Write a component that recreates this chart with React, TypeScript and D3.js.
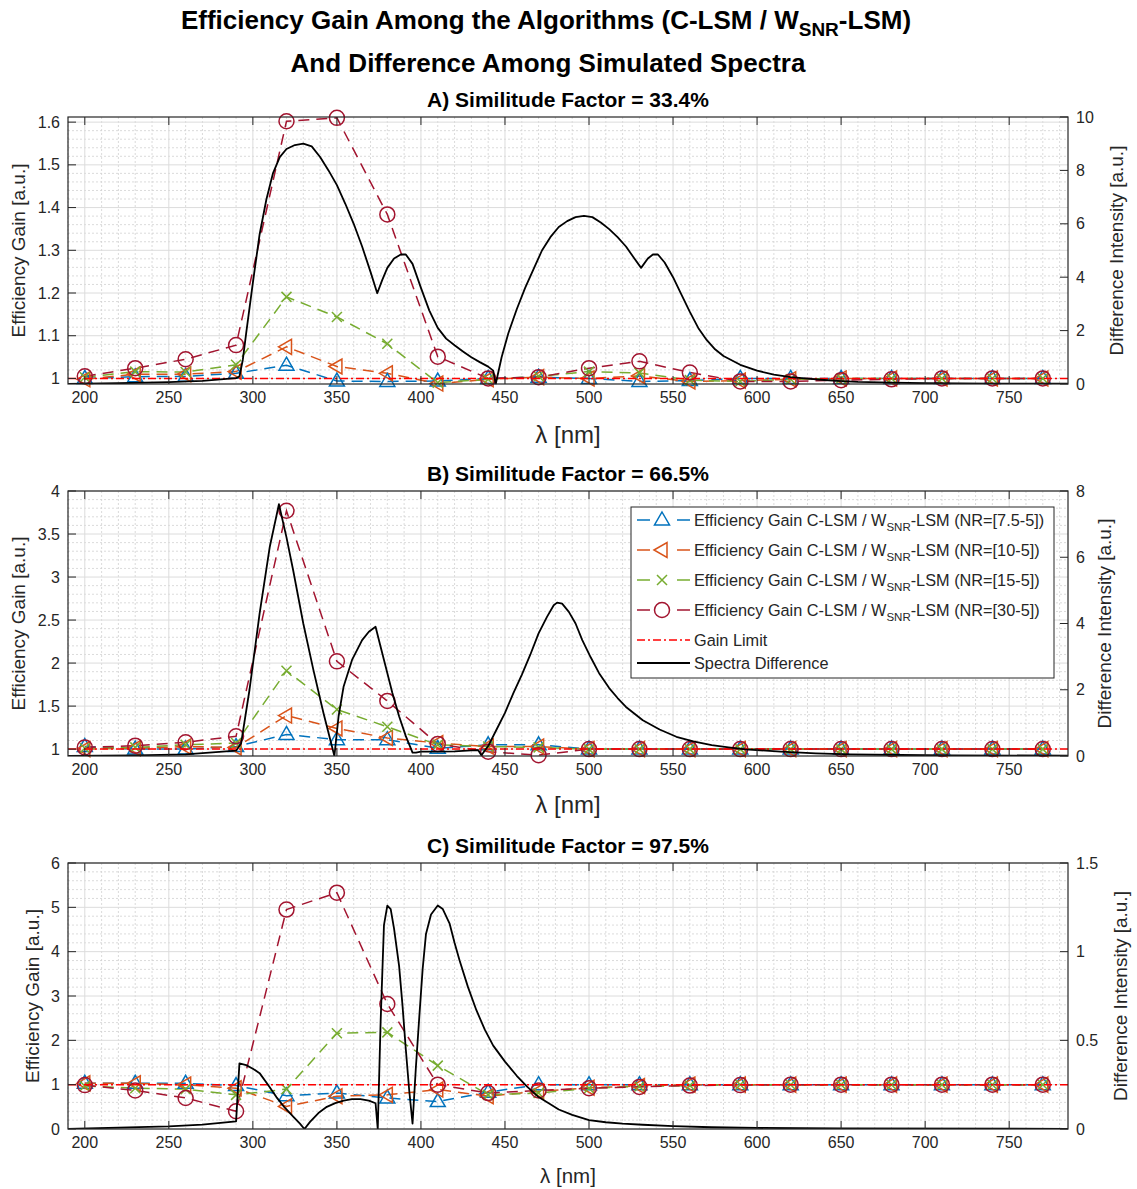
import React from 'react';
import * as d3 from 'd3';

// wavelengths where the gain ratio was evaluated
const wavelengths = [200, 230, 260, 290, 320, 350, 380, 410, 440, 470, 500, 530, 560, 590, 620, 650, 680, 710, 740, 770];

// A) similitude factor 33.4 %
const gainA_nr7 = [1.0, 1.004, 1.005, 1.012, 1.031, 0.994, 0.993, 0.994, 1.0, 1.003, 1.0, 0.993, 0.995, 1.0, 1.0, 1.0, 1.0, 1.0, 1.0, 1.0];
const gainA_nr10 = [0.998, 1.01, 1.01, 1.016, 1.074, 1.028, 1.012, 0.988, 0.998, 1.003, 1.0, 1.006, 0.993, 0.995, 0.998, 1.0, 1.0, 1.0, 1.0, 1.0];
const gainA_nr15 = [1.003, 1.016, 1.015, 1.032, 1.191, 1.144, 1.081, 0.99, 0.998, 1.005, 1.016, 1.013, 0.996, 0.993, 0.998, 1.0, 1.0, 1.0, 1.0, 1.0];
const gainA_nr30 = [1.005, 1.024, 1.045, 1.078, 1.602, 1.61, 1.384, 1.051, 1.0, 1.003, 1.024, 1.04, 1.014, 0.993, 0.993, 0.996, 0.998, 1.0, 1.0, 1.0];

// B) similitude factor 66.5 %
const gainB_nr7 = [1.03, 1.0, 1.0, 1.03, 1.17, 1.11, 1.11, 1.01, 1.05, 1.05, 1.0, 1.0, 1.0, 1.0, 1.0, 1.0, 1.0, 1.0, 1.0, 1.0];
const gainB_nr10 = [1.0, 1.01, 1.03, 1.02, 1.39, 1.24, 1.13, 1.07, 1.03, 1.03, 1.0, 1.0, 1.0, 1.0, 1.0, 1.0, 1.0, 1.0, 1.0, 1.0];
const gainB_nr15 = [1.01, 1.02, 1.05, 1.07, 1.91, 1.46, 1.26, 1.05, 1.03, 1.02, 1.0, 1.0, 1.0, 1.0, 1.0, 1.0, 1.0, 1.0, 1.0, 1.0];
const gainB_nr30 = [1.02, 1.04, 1.08, 1.15, 3.77, 2.02, 1.56, 1.06, 0.97, 0.93, 1.0, 1.0, 1.0, 1.0, 1.0, 1.0, 1.0, 1.0, 1.0, 1.0];

// C) similitude factor 97.5 %
const gainC_nr7 = [1.03, 1.03, 1.03, 0.98, 0.75, 0.81, 0.7, 0.62, 0.83, 1.0, 1.0, 1.0, 1.0, 1.0, 1.0, 1.0, 1.0, 1.0, 1.0, 1.0];
const gainC_nr10 = [1.03, 1.03, 1.0, 0.92, 0.51, 0.74, 0.77, 0.89, 0.74, 0.85, 0.93, 0.97, 1.0, 1.0, 1.0, 1.0, 1.0, 1.0, 1.0, 1.0];
const gainC_nr15 = [0.97, 0.92, 0.9, 0.77, 0.9, 2.16, 2.18, 1.43, 0.77, 0.81, 0.92, 0.96, 0.98, 1.0, 1.0, 1.0, 1.0, 1.0, 1.0, 1.0];
const gainC_nr30 = [0.99, 0.87, 0.7, 0.4, 4.95, 5.33, 2.82, 1.0, 0.81, 0.87, 0.92, 0.95, 0.98, 0.99, 1.0, 1.0, 1.0, 1.0, 1.0, 1.0];

// spectra difference (right axis)
const specA_nm = [190, 220, 250, 270, 290, 292, 294, 296, 300, 304, 308, 312, 316, 320, 325, 330, 335, 340, 345, 350, 355, 360, 365, 370, 374, 377, 380, 384, 388, 391, 395, 400, 405, 410, 415, 420, 425, 430, 435, 440, 443, 444.5, 448, 452, 457, 462, 467, 472, 477, 482, 487, 492, 497, 502, 507, 512, 517, 522, 527, 531, 535, 538, 541, 545, 550, 555, 560, 565, 570, 575, 580, 590, 600, 610, 620, 630, 640, 650, 660, 680, 700, 740, 785];
const specA = [0, 0.03, 0.07, 0.12, 0.22, 0.28, 0.9, 1.9, 3.8, 5.6, 6.9, 7.9, 8.5, 8.8, 8.95, 9.0, 8.9, 8.5, 8.0, 7.45, 6.75, 6.0, 5.15, 4.2, 3.4, 3.9, 4.35, 4.7, 4.85, 4.85, 4.5, 3.6, 2.75, 2.1, 1.7, 1.45, 1.22, 1.0, 0.82, 0.65, 0.5, 0.0, 1.0, 1.9, 2.8, 3.6, 4.3, 5.0, 5.5, 5.88, 6.1, 6.25, 6.3, 6.25, 6.05, 5.8, 5.5, 5.15, 4.7, 4.35, 4.7, 4.85, 4.85, 4.55, 4.0, 3.35, 2.7, 2.1, 1.65, 1.3, 1.05, 0.72, 0.5, 0.35, 0.26, 0.2, 0.15, 0.11, 0.08, 0.05, 0.03, 0.015, 0.01];

const specB_nm = [190, 230, 260, 290, 293, 298, 304, 310, 315.5, 320, 324, 330, 336, 342, 348.5, 351, 354, 359, 365, 369, 373, 376, 379, 383, 387, 391, 395, 397, 400, 410, 420, 430, 434, 436, 440, 445, 450, 455, 460, 465, 470, 475, 479, 481, 484, 488, 492, 496, 501, 506, 512, 517, 522, 532, 542, 552, 562, 573, 583, 593, 614, 635, 655, 685, 716, 785];
const specB = [0, 0.02, 0.05, 0.16, 0.38, 2.0, 4.3, 6.3, 7.6, 6.6, 5.6, 4.0, 2.6, 1.3, 0.0, 1.2, 2.1, 2.9, 3.5, 3.75, 3.9, 3.3, 2.7, 1.9, 1.2, 0.6, 0.1, 0.1, 0.13, 0.13, 0.14, 0.17, 0.18, 0.02, 0.3, 0.8, 1.3, 1.9, 2.45, 3.05, 3.7, 4.2, 4.55, 4.63, 4.6, 4.35, 4.0, 3.5, 2.98, 2.5, 2.05, 1.75, 1.48, 1.08, 0.8, 0.58, 0.44, 0.33, 0.26, 0.2, 0.13, 0.08, 0.05, 0.03, 0.02, 0.01];

const specC_nm = [190, 220, 250, 270, 290, 292, 296, 300, 304, 309, 314, 319, 324, 328, 330.7, 334, 339, 344, 349, 354, 359, 364, 369, 373, 374.3, 376, 378, 380, 382, 384, 387, 389, 391, 393, 395, 397, 399, 401, 403, 406, 410, 413, 417, 420, 423, 428, 433, 438, 443, 450, 457, 463, 470, 477, 482, 490, 500, 510, 520, 532, 550, 573, 600, 650, 785];
const specC = [0, 0.008, 0.015, 0.025, 0.043, 0.37, 0.36, 0.34, 0.315, 0.25, 0.18, 0.12, 0.07, 0.03, 0.0, 0.04, 0.09, 0.125, 0.146, 0.16, 0.168, 0.168, 0.16, 0.145, 0.0, 0.6, 1.15, 1.26, 1.24, 1.13, 0.92, 0.7, 0.45, 0.22, 0.03, 0.35, 0.63, 0.9, 1.1, 1.21, 1.26, 1.24, 1.16, 1.05, 0.95, 0.8, 0.67, 0.56, 0.47, 0.38, 0.3, 0.24, 0.18, 0.14, 0.11, 0.08, 0.05, 0.038, 0.03, 0.024, 0.016, 0.01, 0.006, 0.003, 0.001];

const xTicks = [200, 250, 300, 350, 400, 450, 500, 550, 600, 650, 700, 750];
const leftTicksA = ['1', '1.1', '1.2', '1.3', '1.4', '1.5', '1.6'];
const leftTicksB = ['1', '1.5', '2', '2.5', '3', '3.5', '4'];
const leftTicksC = ['0', '1', '2', '3', '4', '5', '6'];
const rightTicksA = ['0', '2', '4', '6', '8', '10'];
const rightTicksB = ['0', '2', '4', '6', '8'];
const rightTicksC = ['0', '0.5', '1', '1.5'];
const nrLabels = ['(NR=[7.5-5])', '(NR=[10-5])', '(NR=[15-5])', '(NR=[30-5])'];

const COLORS = ['#0072BD', '#D95319', '#77AC30', '#A2142F'];
const MARKERS = ['up', 'left', 'x', 'circle'];
const AX = '#262626';
const FONT = 'Liberation Sans, Arial, sans-serif';
const L = 68;
const R = 1068;

function Marker({ kind, x, y, color }) {
  const sw = 1.5;
  if (kind === 'up')
    return <path d={`M${x},${y - 8}L${x + 7.5},${y + 5}L${x - 7.5},${y + 5}Z`} fill="none" stroke={color} strokeWidth={sw} />;
  if (kind === 'left')
    return <path d={`M${x - 8},${y}L${x + 5},${y - 7.5}L${x + 5},${y + 7.5}Z`} fill="none" stroke={color} strokeWidth={sw} />;
  if (kind === 'x')
    return <path d={`M${x - 5},${y - 5}L${x + 5},${y + 5}M${x - 5},${y + 5}L${x + 5},${y - 5}`} fill="none" stroke={color} strokeWidth={sw} />;
  return <circle cx={x} cy={y} r={7.5} fill="none" stroke={color} strokeWidth={sw} />;
}

function Legend() {
  const rows = [520, 550, 580, 610];
  const x0 = 637, x1 = 690, xm = 662, tx = 694;
  return (
    <g fontFamily={FONT} fontSize={16.3} fill={AX}>
      <rect x={631} y={507} width={423} height={171} fill="white" stroke={AX} strokeWidth={1} />
      {rows.map((ry, i) => (
        <g key={i}>
          <line x1={x0} x2={x0 + 13} y1={ry} y2={ry} stroke={COLORS[i]} strokeWidth={1.5} />
          <line x1={x1 - 13} x2={x1} y1={ry} y2={ry} stroke={COLORS[i]} strokeWidth={1.5} />
          <Marker kind={MARKERS[i]} x={xm} y={ry} color={COLORS[i]} />
          <text x={tx} y={ry + 5.5}>
            Efficiency Gain C-LSM / W
            <tspan dy={5} fontSize={11.5}>SNR</tspan>
            <tspan dy={-5}>-LSM {nrLabels[i]}</tspan>
          </text>
        </g>
      ))}
      <line x1={x0} x2={x1} y1={640} y2={640} stroke="#FF0000" strokeWidth={1.5} strokeDasharray="8,3,2,3" />
      <text x={tx} y={645.5}>Gain Limit</text>
      <line x1={x0} x2={x1} y1={663} y2={663} stroke="#000" strokeWidth={1.8} />
      <text x={tx} y={668.5}>Spectra Difference</text>
    </g>
  );
}

function Panel(p) {
  const { id, top, bottom, title, leftDomain, leftTicks, leftMinor, rightDomain, rightTicks, gains, specNm, specVal, xLabelSize, xLabelY, yLabelX, rLabelX, legend } = p;
  const x = d3.scaleLinear().domain([190, 785]).range([L, R]);
  const yl = d3.scaleLinear().domain(leftDomain).range([bottom, top]);
  const yr = d3.scaleLinear().domain(rightDomain).range([bottom, top]);
  const leftVals = leftTicks.map(Number);
  const minorX = d3.range(190, 786, 10).filter((v) => v % 50 !== 0);
  const k0 = Math.ceil(leftDomain[0] / leftMinor - 1e-6);
  const k1 = Math.floor(leftDomain[1] / leftMinor + 1e-6);
  const minorY = d3.range(k0, k1 + 1).map((k) => k * leftMinor).filter((v) => !leftVals.some((t) => Math.abs(t - v) < 1e-6));
  const gainLine = d3.line<number>().x((_, i) => x(wavelengths[i])).y((d) => yl(d));
  const specLine = d3.line<number>().x((_, i) => x(specNm[i])).y((d) => yr(d));
  const mid = (top + bottom) / 2;
  const tick = 8;

  return (
    <g>
      <defs>
        <clipPath id={id}>
          <rect x={L} y={top} width={R - L} height={bottom - top} />
        </clipPath>
      </defs>
      <rect x={L} y={top} width={R - L} height={bottom - top} fill="white" />
      {/* minor grid */}
      <g stroke="#d2d2d2" strokeWidth={0.8} strokeDasharray="2,2">
        {minorX.map((v) => <line key={'mx' + v} x1={x(v)} x2={x(v)} y1={top} y2={bottom} />)}
        {minorY.map((v) => <line key={'my' + v} x1={L} x2={R} y1={yl(v)} y2={yl(v)} />)}
      </g>
      {/* major grid */}
      <g stroke="#dcdcdc" strokeWidth={1}>
        {xTicks.map((v) => <line key={'gx' + v} x1={x(v)} x2={x(v)} y1={top} y2={bottom} />)}
        {leftVals.map((v) => <line key={'gy' + v} x1={L} x2={R} y1={yl(v)} y2={yl(v)} />)}
      </g>
      {/* gain series */}
      <g clipPath={`url(#${id})`} fill="none">
        {gains.map((g, i) => (
          <path key={i} d={gainLine(g)} stroke={COLORS[i]} strokeWidth={1.5} strokeDasharray="11,7" />
        ))}
      </g>
      {gains.map((g, i) => (
        <g key={'m' + i}>
          {g.map((v, j) => <Marker key={j} kind={MARKERS[i]} x={x(wavelengths[j])} y={yl(v)} color={COLORS[i]} />)}
        </g>
      ))}
      <g clipPath={`url(#${id})`} fill="none">
        <line x1={L} x2={R} y1={yl(1)} y2={yl(1)} stroke="#FF0000" strokeWidth={1.5} strokeDasharray="8,3,2,3" />
        <path d={specLine(specVal)} stroke="#000" strokeWidth={1.8} strokeLinejoin="round" />
      </g>
      {/* axes box and ticks */}
      <rect x={L} y={top} width={R - L} height={bottom - top} fill="none" stroke={AX} strokeWidth={1.2} />
      <g stroke={AX} strokeWidth={1}>
        {xTicks.map((v) => (
          <g key={'t' + v}>
            <line x1={x(v)} x2={x(v)} y1={bottom} y2={bottom - tick} />
            <line x1={x(v)} x2={x(v)} y1={top} y2={top + tick} />
          </g>
        ))}
        {leftVals.map((v) => <line key={'lt' + v} x1={L} x2={L + tick} y1={yl(v)} y2={yl(v)} />)}
        {rightTicks.map((s) => <line key={'rt' + s} x1={R} x2={R - tick} y1={yr(Number(s))} y2={yr(Number(s))} />)}
      </g>
      <g fontFamily={FONT} fontSize={16} fill={AX}>
        {xTicks.map((v) => (
          <text key={'xl' + v} x={x(v)} y={bottom + 19} textAnchor="middle">{v}</text>
        ))}
        {leftTicks.map((s) => (
          <text key={'yl' + s} x={L - 8} y={yl(Number(s)) + 5.5} textAnchor="end">{s}</text>
        ))}
        {rightTicks.map((s) => (
          <text key={'yr' + s} x={R + 8} y={yr(Number(s)) + 5.5}>{s}</text>
        ))}
      </g>
      <text x={(L + R) / 2} y={xLabelY} textAnchor="middle" fontFamily={FONT} fontSize={xLabelSize} fill={AX}>
        λ [nm]
      </text>
      <text transform={`translate(${yLabelX},${mid}) rotate(-90)`} textAnchor="middle" fontFamily={FONT} fontSize={19} fill={AX}>
        Efficiency Gain [a.u.]
      </text>
      <text transform={`translate(${rLabelX},${mid}) rotate(-90)`} textAnchor="middle" fontFamily={FONT} fontSize={19} fill={AX}>
        Difference Intensity [a.u.]
      </text>
      <text x={(L + R) / 2} y={top - 10} textAnchor="middle" fontFamily={FONT} fontSize={21} fontWeight="bold" fill="#000">
        {title}
      </text>
      {legend && <Legend />}
    </g>
  );
}

export default function App() {
  return (
    <svg width={1137} height={1189} style={{ position: 'absolute', left: 0, top: 0, background: 'white' }}>
      <rect width={1137} height={1189} fill="white" />
      <text x={546} y={29} textAnchor="middle" fontFamily={FONT} fontSize={26} fontWeight="bold" fill="#000">
        Efficiency Gain Among the Algorithms (C-LSM / W
        <tspan dy={7} fontSize={19}>SNR</tspan>
        <tspan dy={-7}>-LSM)</tspan>
      </text>
      <text x={548} y={72} textAnchor="middle" fontFamily={FONT} fontSize={26} fontWeight="bold" fill="#000">
        And Difference Among Simulated Spectra
      </text>
      <Panel
        id="clipA" top={117} bottom={384} title="A) Similitude Factor = 33.4%"
        leftDomain={[0.987, 1.612]} leftTicks={leftTicksA} leftMinor={0.02}
        rightDomain={[0, 10]} rightTicks={rightTicksA}
        gains={[gainA_nr7, gainA_nr10, gainA_nr15, gainA_nr30]}
        specNm={specA_nm} specVal={specA}
        xLabelSize={24} xLabelY={443} yLabelX={25} rLabelX={1123}
      />
      <Panel
        id="clipB" top={491} bottom={756} title="B) Similitude Factor = 66.5%"
        leftDomain={[0.92, 4]} leftTicks={leftTicksB} leftMinor={0.1}
        rightDomain={[0, 8]} rightTicks={rightTicksB}
        gains={[gainB_nr7, gainB_nr10, gainB_nr15, gainB_nr30]}
        specNm={specB_nm} specVal={specB}
        xLabelSize={24} xLabelY={813} yLabelX={25} rLabelX={1111}
        legend
      />
      <Panel
        id="clipC" top={863} bottom={1129} title="C) Similitude Factor = 97.5%"
        leftDomain={[0, 6]} leftTicks={leftTicksC} leftMinor={0.2}
        rightDomain={[0, 1.5]} rightTicks={rightTicksC}
        gains={[gainC_nr7, gainC_nr10, gainC_nr15, gainC_nr30]}
        specNm={specC_nm} specVal={specC}
        xLabelSize={20.5} xLabelY={1183} yLabelX={39} rLabelX={1127}
      />
    </svg>
  );
}
